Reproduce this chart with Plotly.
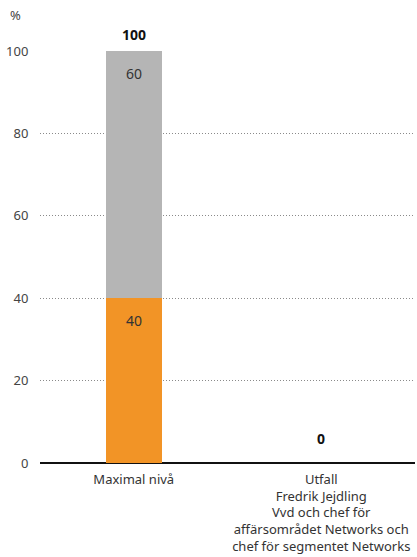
import plotly.graph_objects as go

categories = ["Maximal nivå",
              "Utfall<br>Fredrik Jejdling<br>Vvd och chef för<br>affärsområdet Networks och<br>chef för segmentet Networks"]
base_part = [40, 0]
upper_part = [60, 0]
totals = [100, 0]
y_ticks = [0, 20, 40, 60, 80, 100]

FONT = "Noto Sans"
TXT = "#333333"


def nonzero(vals):
    return [v if v else None for v in vals]


fig = go.Figure()
fig.add_trace(go.Bar(x=categories, y=nonzero(base_part), marker_color="#F29426",
                     marker_line_width=0, width=0.3, hoverinfo="skip"))
fig.add_trace(go.Bar(x=categories, y=nonzero(upper_part), marker_color="#B5B5B5",
                     marker_line_width=0, width=0.3, hoverinfo="skip"))

# segment values, placed just below the top of each segment
for i in range(len(categories)):
    cum = 0
    for part in (base_part, upper_part):
        v = part[i]
        cum += v
        if v:
            fig.add_annotation(x=categories[i], y=cum, text=str(v), showarrow=False,
                               yanchor="middle", yshift=-22,
                               font=dict(size=14, color=TXT, family=FONT))

# totals above each column
for i, t in enumerate(totals):
    fig.add_annotation(x=categories[i], y=t, text=f"<b>{t}</b>", showarrow=False,
                       yanchor="bottom", yshift=5 if t else 13,
                       font=dict(size=14, color="#111111", family=FONT))

# unit label above the y axis
fig.add_annotation(xref="paper", yref="paper", x=-0.085, y=1 + 36 / 412, text="%",
                   showarrow=False, xanchor="left", yanchor="middle",
                   font=dict(size=13, color="#444444", family=FONT))

fig.update_layout(
    width=417, height=557, barmode="stack", showlegend=False,
    margin=dict(l=40, r=2, t=51, b=94),
    plot_bgcolor="white", paper_bgcolor="white",
    font=dict(family=FONT, size=13, color=TXT),
    bargap=0,
)
fig.update_xaxes(range=[-0.5, 1.5], showgrid=False, showline=False,
                 ticks="outside", ticklen=4, tickcolor="rgba(0,0,0,0)",
                 tickfont=dict(size=13, color=TXT, family=FONT))
fig.update_yaxes(range=[0, 100], tickvals=y_ticks, showgrid=True,
                 gridcolor="#8a8a8a", griddash="1px,2px", gridwidth=1,
                 zeroline=True, zerolinecolor="#111111", zerolinewidth=2,
                 ticks="outside", ticklen=8, tickcolor="rgba(0,0,0,0)",
                 tickfont=dict(size=13, color="#444444", family=FONT))

fig.write_html("out.html")
